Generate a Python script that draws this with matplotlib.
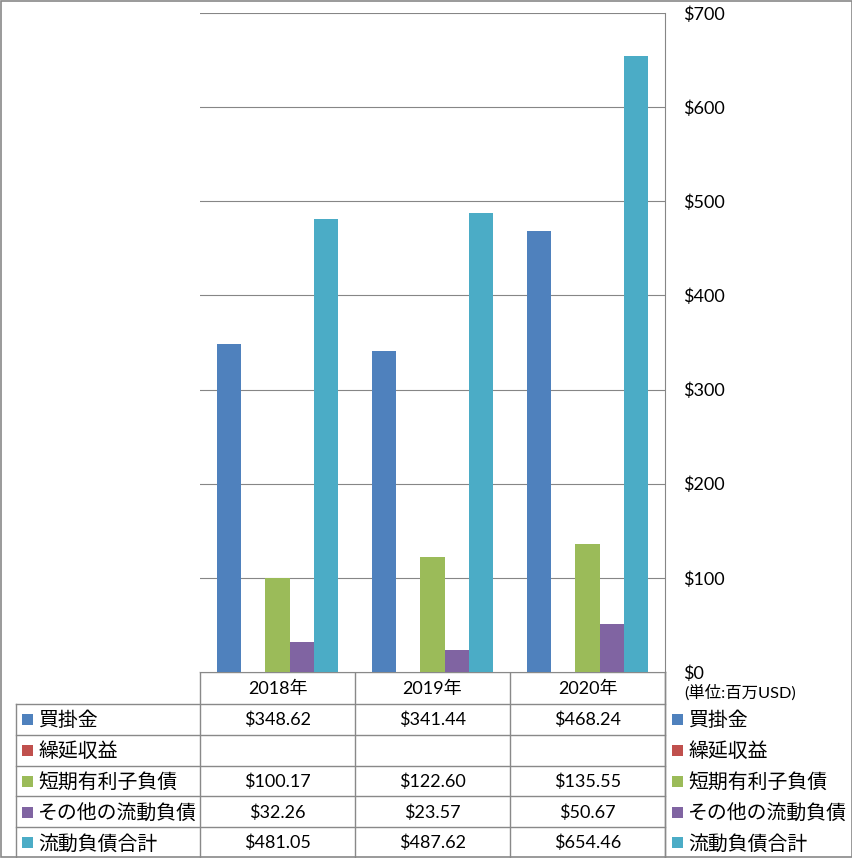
import matplotlib
matplotlib.use("Agg")
import matplotlib.pyplot as plt
from matplotlib.lines import Line2D
from matplotlib.patches import Rectangle
import numpy as np

years = ["2018年", "2019年", "2020年"]
series_names = ["買掛金", "繰延収益", "短期有利子負債", "その他の流動負債", "流動負債合計"]
accounts_payable = [348.62, 341.44, 468.24]
deferred_revenue = [None, None, None]
short_term_debt = [100.17, 122.60, 135.55]
other_current = [32.26, 23.57, 50.67]
total_current = [481.05, 487.62, 654.46]
colors = ["#4F81BD", "#C0504D", "#9BBB59", "#8064A2", "#4BACC6"]
y_ticks = [0, 100, 200, 300, 400, 500, 600, 700]
unit_label = "(単位:百万USD)"

plt.rcParams['font.family'] = ['Lato', 'Noto Sans CJK JP']

W, H = 853, 858
fig = plt.figure(figsize=(W / 100, H / 100), dpi=100)

# plot area in pixel terms
left_px, right_px, top_px, base_px = 200, 665, 13, 672
ax = fig.add_axes([left_px / W, (H - base_px) / H,
                   (right_px - left_px) / W, (base_px - top_px) / H])

all_series = [accounts_payable, deferred_revenue, short_term_debt, other_current, total_current]
x = np.arange(len(years))
bw = 0.155
for k, vals in enumerate(all_series):
    v = np.array([np.nan if a is None else a for a in vals], dtype=float)
    ax.bar(x + (k - 2) * bw, v, width=bw, color=colors[k], zorder=3)

ax.set_xlim(-0.5, len(years) - 0.5)
ax.set_ylim(0, 700)
ax.set_yticks(y_ticks)
ax.set_yticklabels(["$%d" % t for t in y_ticks], fontsize=13)
ax.yaxis.tick_right()
ax.tick_params(axis='y', length=0, pad=13)
ax.set_xticks([])
ax.grid(axis='y', color="#868686", linewidth=0.8, zorder=0)
for s in ["left", "top", "bottom"]:
    ax.spines[s].set_visible(False)
ax.spines["right"].set_color("#868686")
ax.spines["right"].set_linewidth(0.8)

# overlay in pixel coordinates for the data table and border
ov = fig.add_axes([0, 0, 1, 1], zorder=-1)
ov.set_xlim(0, W)
ov.set_ylim(H, 0)
ov.axis("off")
lc = "#898989"


def hline(y, x0, x1):
    ov.add_line(Line2D([x0, x1], [y, y], color=lc, linewidth=1.0))


def vline(xp, y0, y1):
    ov.add_line(Line2D([xp, xp], [y0, y1], color=lc, linewidth=1.0))


ov.add_patch(Rectangle((1, 1), W - 2, H - 2, fill=False, edgecolor=lc, linewidth=1.2))

col_w = (right_px - left_px) / len(years)
row_tops = [672, 703.5, 734.5, 765.5, 796, 827, 857]
hline(base_px, left_px, right_px)
for y in row_tops[1:-1]:
    hline(y, 16, right_px)
vline(16, row_tops[1], 857)
for i in range(len(years) + 1):
    vline(left_px + i * col_w, base_px, 857)
vline(right_px, base_px, 857)

for i, yr in enumerate(years):
    cx = left_px + (i + 0.5) * col_w
    ov.text(cx, (row_tops[0] + row_tops[1]) / 2 + 1, yr, ha="center", va="center", fontsize=13)

for k, (name, vals) in enumerate(zip(series_names, all_series)):
    cy = (row_tops[k + 1] + row_tops[k + 2]) / 2
    for xs, xt in [(22, 38), (672, 688)]:
        ov.add_patch(Rectangle((xs, cy - 5), 11, 11, color=colors[k], linewidth=0))
        ov.text(xt, cy + 1, name, ha="left", va="center", fontsize=14.3)
    for i, v in enumerate(vals):
        if v is None:
            continue
        cx = left_px + (i + 0.5) * col_w
        ov.text(cx, cy + 1, "$%.2f" % v, ha="center", va="center", fontsize=13)

ov.text(684, 693, unit_label, ha="left", va="center", fontsize=11.8)

fig.savefig("out.png", dpi=100)
